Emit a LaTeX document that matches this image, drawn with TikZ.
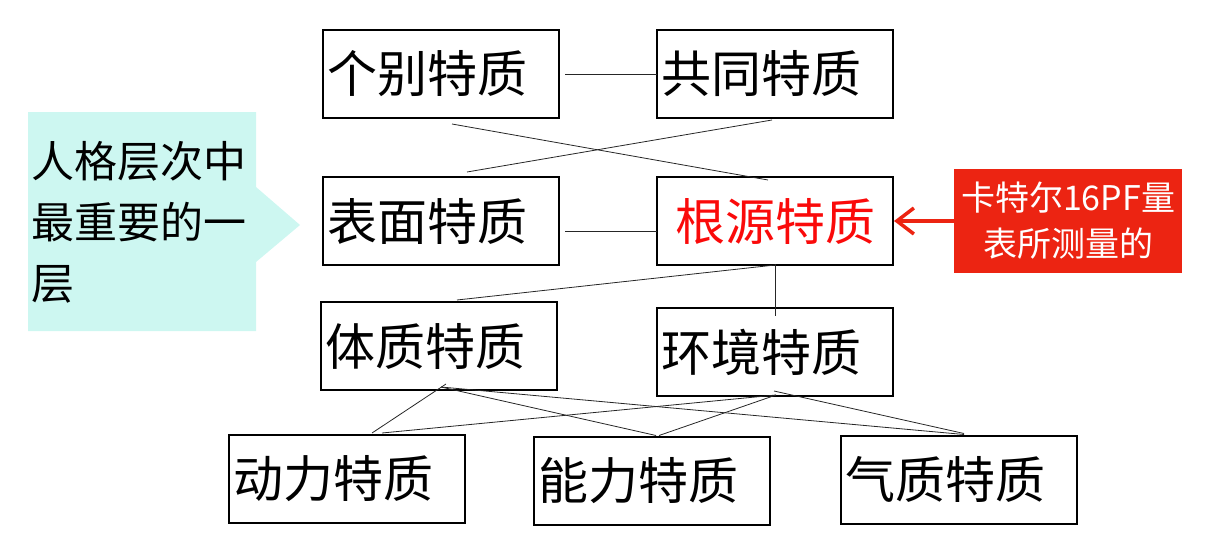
\documentclass[tikz,border=0pt]{standalone}
\usepackage{fontspec}
\setmainfont{Noto Sans CJK SC}
\usetikzlibrary{positioning, arrows.meta}

\definecolor{calloutcyan}{RGB}{205,247,241}
\definecolor{noteRed}{RGB}{236,36,18}
\definecolor{sourceRed}{RGB}{250,10,10}

\tikzset{
    trait/.style={draw, line width=2pt, minimum width=236pt, minimum height=88pt,
        text width=228pt, inner xsep=4pt, outer sep=0pt, align=left,
        font=\fontsize{50}{58}\selectfont},
    link/.style={line width=0.8pt, black!85},
}

\begin{document}
\begin{tikzpicture}[x=1pt, y=-1pt]
    \useasboundingbox (0,0) rectangle (1206,551);

    \node[trait] at (441,74)                       (Individual) {个别特质};
    \node[trait, right=98pt of Individual]         (Common)     {共同特质};
    \node[trait, below=59pt of Individual]         (Surface)    {表面特质};
    \node[trait, right=98pt of Surface, align=center, text=sourceRed] (Source) {根源特质};
    \node[trait, below=37pt of Surface, xshift=-2pt] (Body)     {体质特质};
    \node[trait, below=43pt of Source]             (Milieu)     {环境特质};
    \node[trait, below=45pt of Body, xshift=-92pt] (Dynamic)    {动力特质};
    \node[trait, right=69pt of Dynamic, yshift=-1.5pt] (Ability) {能力特质};
    \node[trait, right=71pt of Ability, yshift=1pt] (Temper)    {气质特质};

    % callout on the left
    \fill[calloutcyan] (28,112) -- (256,112) -- (256,187) -- (300,225)
        -- (256,262) -- (256,331) -- (28,331) -- cycle;
    \node[anchor=west, align=left, inner sep=0pt,
        font=\fontsize{43}{61}\selectfont] at (31,222) (Callout)
        {人格层次中\\最重要的一\\层};

    % note on the right
    \node[fill=noteRed, text=white, minimum width=228pt, minimum height=104pt,
        align=center, font=\fontsize{34}{46}\selectfont] at (1068,221) (PF Note)
        {卡特尔16PF量\\表所测量的};
    \draw[noteRed, line width=3.5pt, -{Straight Barb[length=17pt, width=26pt]}]
        (PF Note.west) -- ([xshift=1pt]Source.east);

    % links
    \draw[link] ([shift={(6,0)}]Individual.east) -- (Common.west);
    \draw[link] ([shift={(11,6)}]Individual.south) -- ([shift={(-7,3)}]Source.north);
    \draw[link] ([shift={(-3,2)}]Common.south) -- ([shift={(26,-5)}]Surface.north);
    \draw[link] ([shift={(6,10)}]Surface.east) -- ([shift={(0,10)}]Source.west);
    \draw[link] (Source.south) -- ([shift={(18,-2)}]Body.north);
    \draw[link] ([shift={(0,-1)}]Source.south) -- ([shift={(0,8)}]Milieu.north);

    \draw[link] ([shift={(7,-6)}]Body.south) -- ([shift={(25,-2)}]Dynamic.north);
    \draw[link] ([shift={(2,-3)}]Body.south) -- ([shift={(4,-1)}]Ability.north);
    \draw[link] ([shift={(2,-3)}]Body.south) -- ([shift={(5,-1)}]Temper.north);
    \draw[link] ([shift={(1,-1)}]Milieu.south) -- ([shift={(35,-2)}]Dynamic.north);
    \draw[link] ([shift={(1,-1)}]Milieu.south) -- ([shift={(7,-1)}]Ability.north);
    \draw[link] ([shift={(-1,-5)}]Milieu.south) -- ([shift={(5,-2)}]Temper.north);
\end{tikzpicture}
\end{document}
